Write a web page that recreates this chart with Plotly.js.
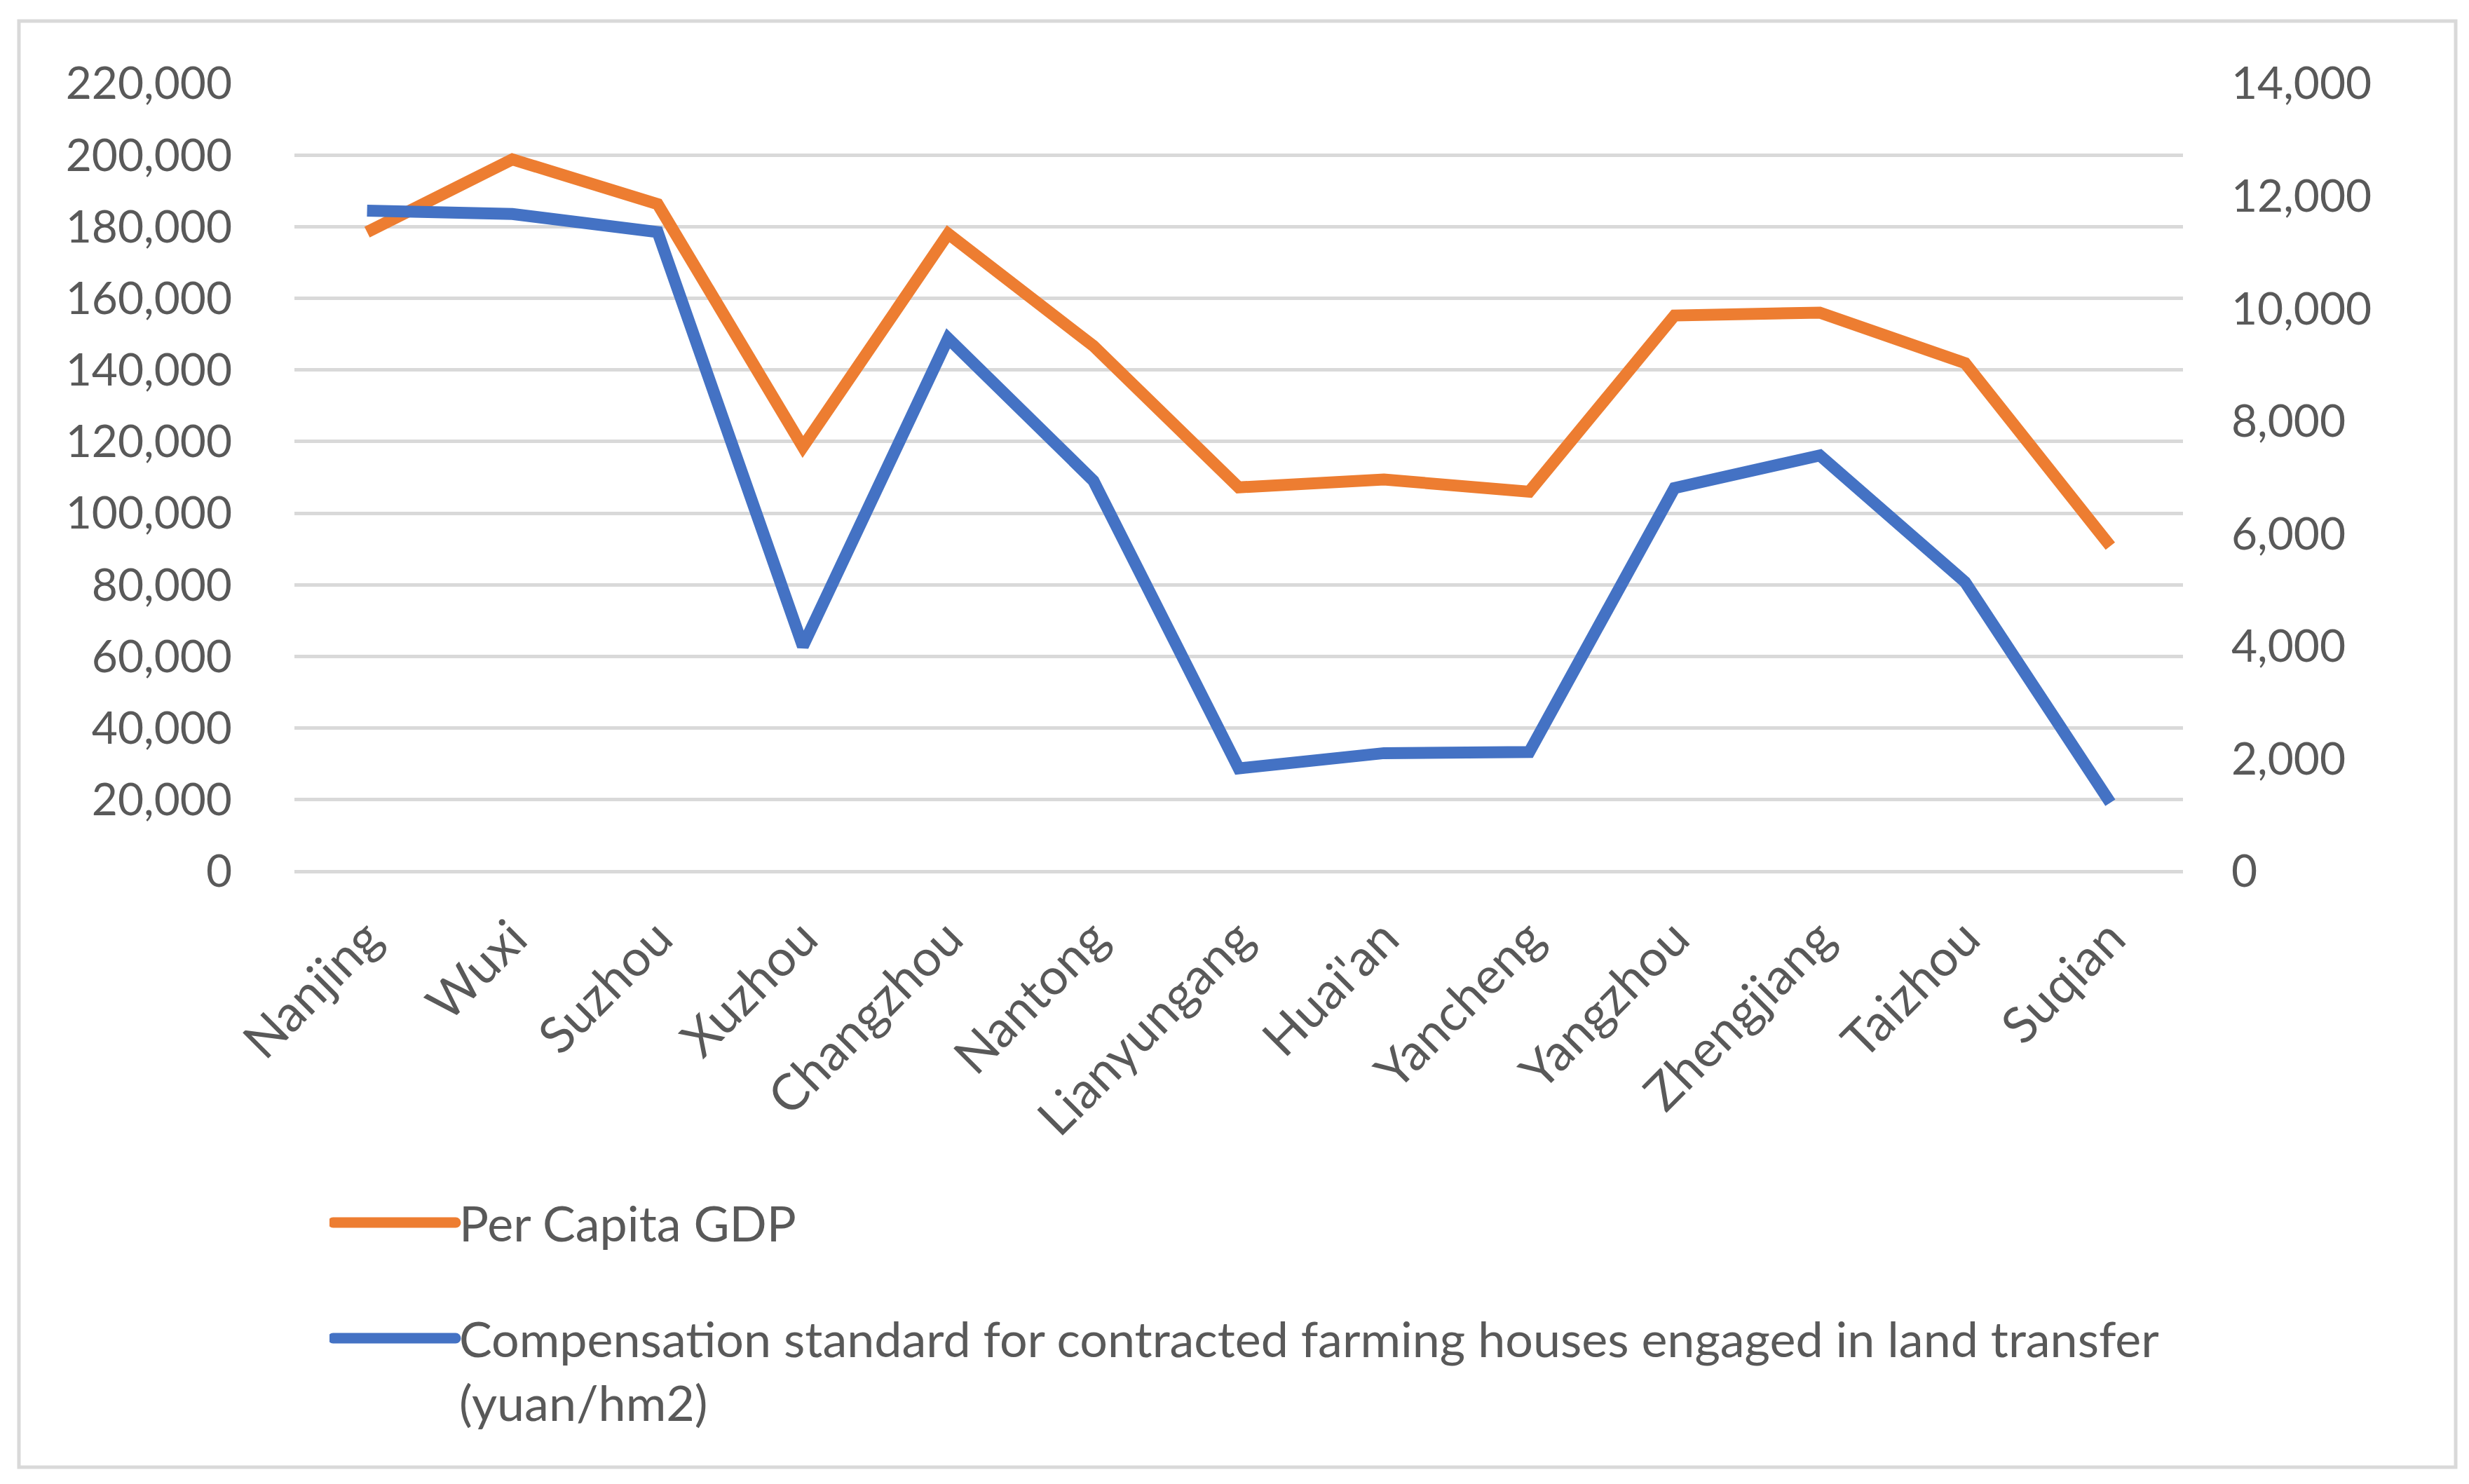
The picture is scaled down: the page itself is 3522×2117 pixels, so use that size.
<!DOCTYPE html>
<html>
<head>
<meta charset="utf-8">
<script src="https://cdn.plot.ly/plotly-3.0.1.min.js"></script>
<style>
  html, body { margin: 0; padding: 0; background: #fff; }
  #chart { width: 3522px; height: 2117px; }
</style>
</head>
<body>
<div id="chart"></div>
<script>
// ---- data ----
const cities = ["Nanjing", "Wuxi", "Suzhou", "Xuzhou", "Changzhou", "Nantong", "Lianyungang",
                "Huai'an", "Yancheng", "Yangzhou", "Zhengjiang", "Taizhou", "Suqian"];
const perCapitaGDP = [178500, 198800, 186300, 118500, 178000, 146700, 107200,
                      109400, 106000, 155200, 156000, 141900, 90800];
const compensation = [11740, 11680, 11360, 4000, 9470, 6940, 1830,
                      2100, 2120, 6810, 7390, 5140, 1220];
const seriesNames = ["Per Capita GDP",
  "Compensation standard for contracted farming houses engaged in land transfer<br>(yuan/hm2)"];

// ---- layout geometry (pixels) ----
const W = 3522, H = 2117;
const L = 420, R = 3114, T = 119, B = 1243;
const px = x => (x - L) / (R - L);
const py = y => (B - y) / (B - T);

const fontFam = "Lato, 'Open Sans', 'Noto Sans', sans-serif";
const tickFont = { family: fontFam, size: 64, color: "#595959" };
const catFont = { family: fontFam, size: 72, color: "#595959" };
const legFont = { family: fontFam, size: 70, color: "#595959" };

const traces = [
  {
    x: cities, y: perCapitaGDP, type: "scatter", mode: "lines",
    name: seriesNames[0], yaxis: "y", legend: "legend",
    line: { color: "#ED7D31", width: 17, shape: "linear" },
    hoverinfo: "skip"
  },
  {
    x: cities, y: compensation, type: "scatter", mode: "lines",
    name: seriesNames[1], yaxis: "y2", legend: "legend2",
    line: { color: "#4472C4", width: 17, shape: "linear" },
    hoverinfo: "skip"
  }
];

const layout = {
  width: W, height: H,
  margin: { l: L, r: W - R, t: T, b: H - B, pad: 0 },
  paper_bgcolor: "#fff", plot_bgcolor: "#fff",
  showlegend: true,
  font: { family: fontFam, size: 64, color: "#595959" },
  xaxis: {
    type: "category", range: [-0.5, cities.length - 0.5],
    tickangle: -45, tickfont: catFont, showgrid: false, zeroline: false,
    showline: false, ticks: "", ticklabelstandoff: 38, fixedrange: true
  },
  yaxis: {
    range: [0, 220000], dtick: 20000, tick0: 0, tickformat: ",d",
    tickfont: tickFont, showgrid: true, gridcolor: "#d9d9d9", gridwidth: 5,
    zeroline: true, zerolinecolor: "#d9d9d9", zerolinewidth: 5,
    showline: false, ticks: "", ticklabelstandoff: 88, fixedrange: true
  },
  yaxis2: {
    overlaying: "y", side: "right",
    range: [0, 14000], dtick: 2000, tick0: 0, tickformat: ",d",
    tickfont: tickFont, showgrid: false, zeroline: false,
    showline: false, ticks: "", ticklabelstandoff: 68, fixedrange: true
  },
  legend: {
    x: px(470), y: py(1692), xanchor: "left", yanchor: "top",
    orientation: "v", font: legFont,
    itemwidth: 175, bgcolor: "rgba(0,0,0,0)", borderwidth: 0, valign: "top"
  },
  legend2: {
    x: px(470), y: py(1857), xanchor: "left", yanchor: "top",
    orientation: "v", font: legFont,
    itemwidth: 175, bgcolor: "rgba(0,0,0,0)", borderwidth: 0, valign: "top"
  },
  shapes: [
    {
      type: "rect", xref: "paper", yref: "paper",
      x0: px(27), x1: px(3503), y0: py(2093), y1: py(30),
      line: { color: "#d9d9d9", width: 5 }, fillcolor: "rgba(0,0,0,0)", layer: "below"
    }
  ]
};

Plotly.newPlot("chart", traces, layout, { displayModeBar: false, staticPlot: true }).then(gd => {
  // thicken the legend line samples to match the series line width
  gd.querySelectorAll(".legendlines path").forEach(p => {
    p.style.strokeWidth = "15px";
    p.style.strokeLinecap = "round";
  });
});
</script>
</body>
</html>
